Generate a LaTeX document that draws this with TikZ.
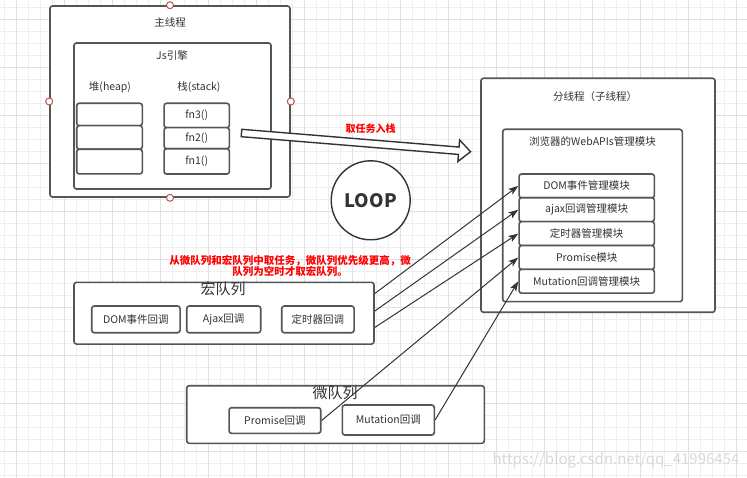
\documentclass[tikz,border=0pt]{standalone}
\usepackage{fontspec}
\setmainfont{Noto Sans CJK SC}
\usetikzlibrary{arrows.meta,calc}
\definecolor{ink}{HTML}{333333}
\definecolor{edge}{HTML}{555555}
\definecolor{handlered}{HTML}{B85450}
\definecolor{gridminor}{HTML}{EEEEEE}
\definecolor{gridmajor}{HTML}{E0E0E0}
\definecolor{note}{HTML}{FF0000}

\begin{document}
\begin{tikzpicture}[
        x=1pt, y=-1pt,
        box/.style={draw=edge, fill=white, line width=1.6pt, rounded corners=2.5pt, inner sep=0pt},
        cell/.style={box, text=ink, font=\fontsize{10.5}{12}\selectfont},
        title/.style={text=ink, font=\fontsize{10.5}{12}\selectfont, inner sep=0pt},
        qtitle/.style={text=ink, font=\fontsize{15}{17}\selectfont, inner sep=0pt},
        hint/.style={text=note, font=\bfseries\fontsize{10.5}{11.7}\selectfont, align=center, inner sep=0pt},
        handle/.style={circle, draw=handlered, fill=white, line width=1pt, minimum size=7pt, inner sep=0pt},
        feed/.style={draw=ink, line width=1pt, -{Stealth[length=10pt, width=7pt, inset=2.5pt]}}
    ]
        \path[fill=white, use as bounding box] (0,0) rectangle (747,478);

        % Background grid
        \begin{scope}[shift={(4.7,7.3)}]
            \draw[gridminor, line width=0.8pt, step=12pt] (-4.7,-7.3) grid (742.3,470.7);
        \end{scope}
        \begin{scope}[shift={(16.7,19.3)}]
            \draw[gridmajor, line width=0.8pt, step=48pt] (-16.7,-19.3) grid (730.3,458.7);
        \end{scope}

        % Main thread
        \node[box, minimum width=240pt, minimum height=191pt] (main) at (170,101.5) {};
        \node[title] (mainlbl) at (170,22.5) {主线程};
        \node[box, minimum width=197pt, minimum height=146pt] (engine) at (172.5,116) {};
        \node[title] (enginelbl) at (172,55) {Js引擎};
        \node[title] (heaplbl) at (110,87) {堆(heap)};
        \node[title] (stacklbl) at (199,87) {栈(stack)};

        % Heap and stack
        \node[cell, minimum width=65.6pt, minimum height=22.4pt] (heap1) at (109.5,114.5) {};
        \node[cell, minimum width=65.6pt, minimum height=23.6pt] (heap2) at (109.5,137.5) {};
        \node[cell, minimum width=65.6pt, minimum height=24.7pt] (heap3) at (109.5,161.6) {};
        \node[cell, minimum width=65.3pt, minimum height=24.4pt] (fn3) at (196.7,115.5) {fn3()};
        \node[cell, minimum width=65.3pt, minimum height=21pt] (fn2) at (196.7,138.2) {fn2()};
        \node[cell, minimum width=65.3pt, minimum height=25.3pt] (fn1) at (196.7,161.4) {fn1()};

        % Selection handles
        \node[handle] (hn) at (main.north) {};
        \node[handle] (hw) at (main.west) {};
        \node[handle] (he) at (main.east) {};
        \node[handle] (hs) at (main.south) {};

        % Sub thread
        \node[box, minimum width=234pt, minimum height=234pt] (sub) at (598,195.3) {};
        \node[title] (sublbl) at (595,96.5) {分线程（子线程）};
        \node[box, minimum width=179.6pt, minimum height=172.4pt] (webapi) at (592.5,215.5) {};
        \node[title] (webapilbl) at (592.5,142) {浏览器的WebAPIs管理模块};
        \node[cell, minimum width=135.3pt, minimum height=23.8pt] (dommod) at (586.7,185.9) {DOM事件管理模块};
        \node[cell, minimum width=135.3pt, minimum height=23.8pt] (ajaxmod) at (586.7,209.7) {ajax回调管理模块};
        \node[cell, minimum width=135.3pt, minimum height=23.8pt] (timermod) at (586.7,233.6) {定时器管理模块};
        \node[cell, minimum width=135.3pt, minimum height=23.8pt] (promisemod) at (586.7,257.5) {Promise模块};
        \node[cell, minimum width=135.3pt, minimum height=23.8pt] (mutmod) at (586.7,281.3) {Mutation回调管理模块};

        % Event loop
        \node[circle, draw=ink, fill=white, line width=1.4pt, minimum size=79pt, inner sep=0pt,
              text=ink, font=\bfseries\fontsize{18.5}{20}\selectfont] (loop) at (370.7,200.3) {LOOP};

        % Macro task queue
        \node[box, minimum width=300pt, minimum height=61.7pt] (macro) at (224,313.2) {};
        \node[qtitle] (macrolbl) at (223,288.5) {宏队列};
        \node[cell, minimum width=88.3pt, minimum height=26.7pt] (domcb) at (135.9,319.4) {DOM事件回调};
        \node[cell, minimum width=74pt, minimum height=26.7pt] (ajaxcb) at (223.7,319.4) {Ajax回调};
        \node[cell, minimum width=72.3pt, minimum height=26.7pt] (timercb) at (317.9,319.4) {定时器回调};

        % Micro task queue
        \node[box, minimum width=297.6pt, minimum height=57.6pt] (micro) at (335.5,414.5) {};
        \node[qtitle] (microlbl) at (335,392.5) {微队列};
        \node[cell, minimum width=91.7pt, minimum height=25.6pt] (promisecb) at (274.9,420.5) {Promise回调};
        \node[cell, minimum width=92pt, minimum height=30pt] (mutcb) at (388.3,420) {Mutation回调};

        % Connections: queues to modules
        \coordinate (macroout1) at ($(macro.north east)!0.19!(macro.south east)$);
        \coordinate (macroout2) at ($(macro.north east)!0.465!(macro.south east)$);
        \coordinate (macroout3) at ($(macro.north east)!0.725!(macro.south east)$);
        \draw[feed] (macroout1) -- (dommod.west);
        \draw[feed] (macroout2) -- (ajaxmod.west);
        \draw[feed] (macroout3) -- (timermod.west);
        \draw[feed] (promisecb.east) -- (promisemod.west);
        \draw[feed] (mutcb.east) -- (mutmod.west);

        % Hollow arrow: stack to sub thread
        \coordinate (grab) at (241.5,133);
        \begin{scope}[shift={(grab)}, rotate=-4.67]
            \draw[draw=ink, fill=white, line width=1.4pt, line join=miter]
                (0,-3.7) -- (218,-3.7) -- (218,-10.8) -- (229.8,0) -- (218,10.8) -- (218,3.7) -- (0,3.7) -- cycle;
        \end{scope}
        \node[hint, font=\bfseries\fontsize{10}{12}\selectfont] (pushlbl) at (370.5,128.3) {取任务入栈};

        % Notes
        \node[hint] (rule) at (290,266) {从微队列和宏队列中取任务，微队列优先级更高，微\\队列为空时才取宏队列。};
        \node[text=gray!30, font=\fontsize{15}{17}\selectfont, inner sep=0pt] (mark) at (616,460) {https://blog.csdn.net/qq\_41996454};
    \end{tikzpicture}
\end{document}
